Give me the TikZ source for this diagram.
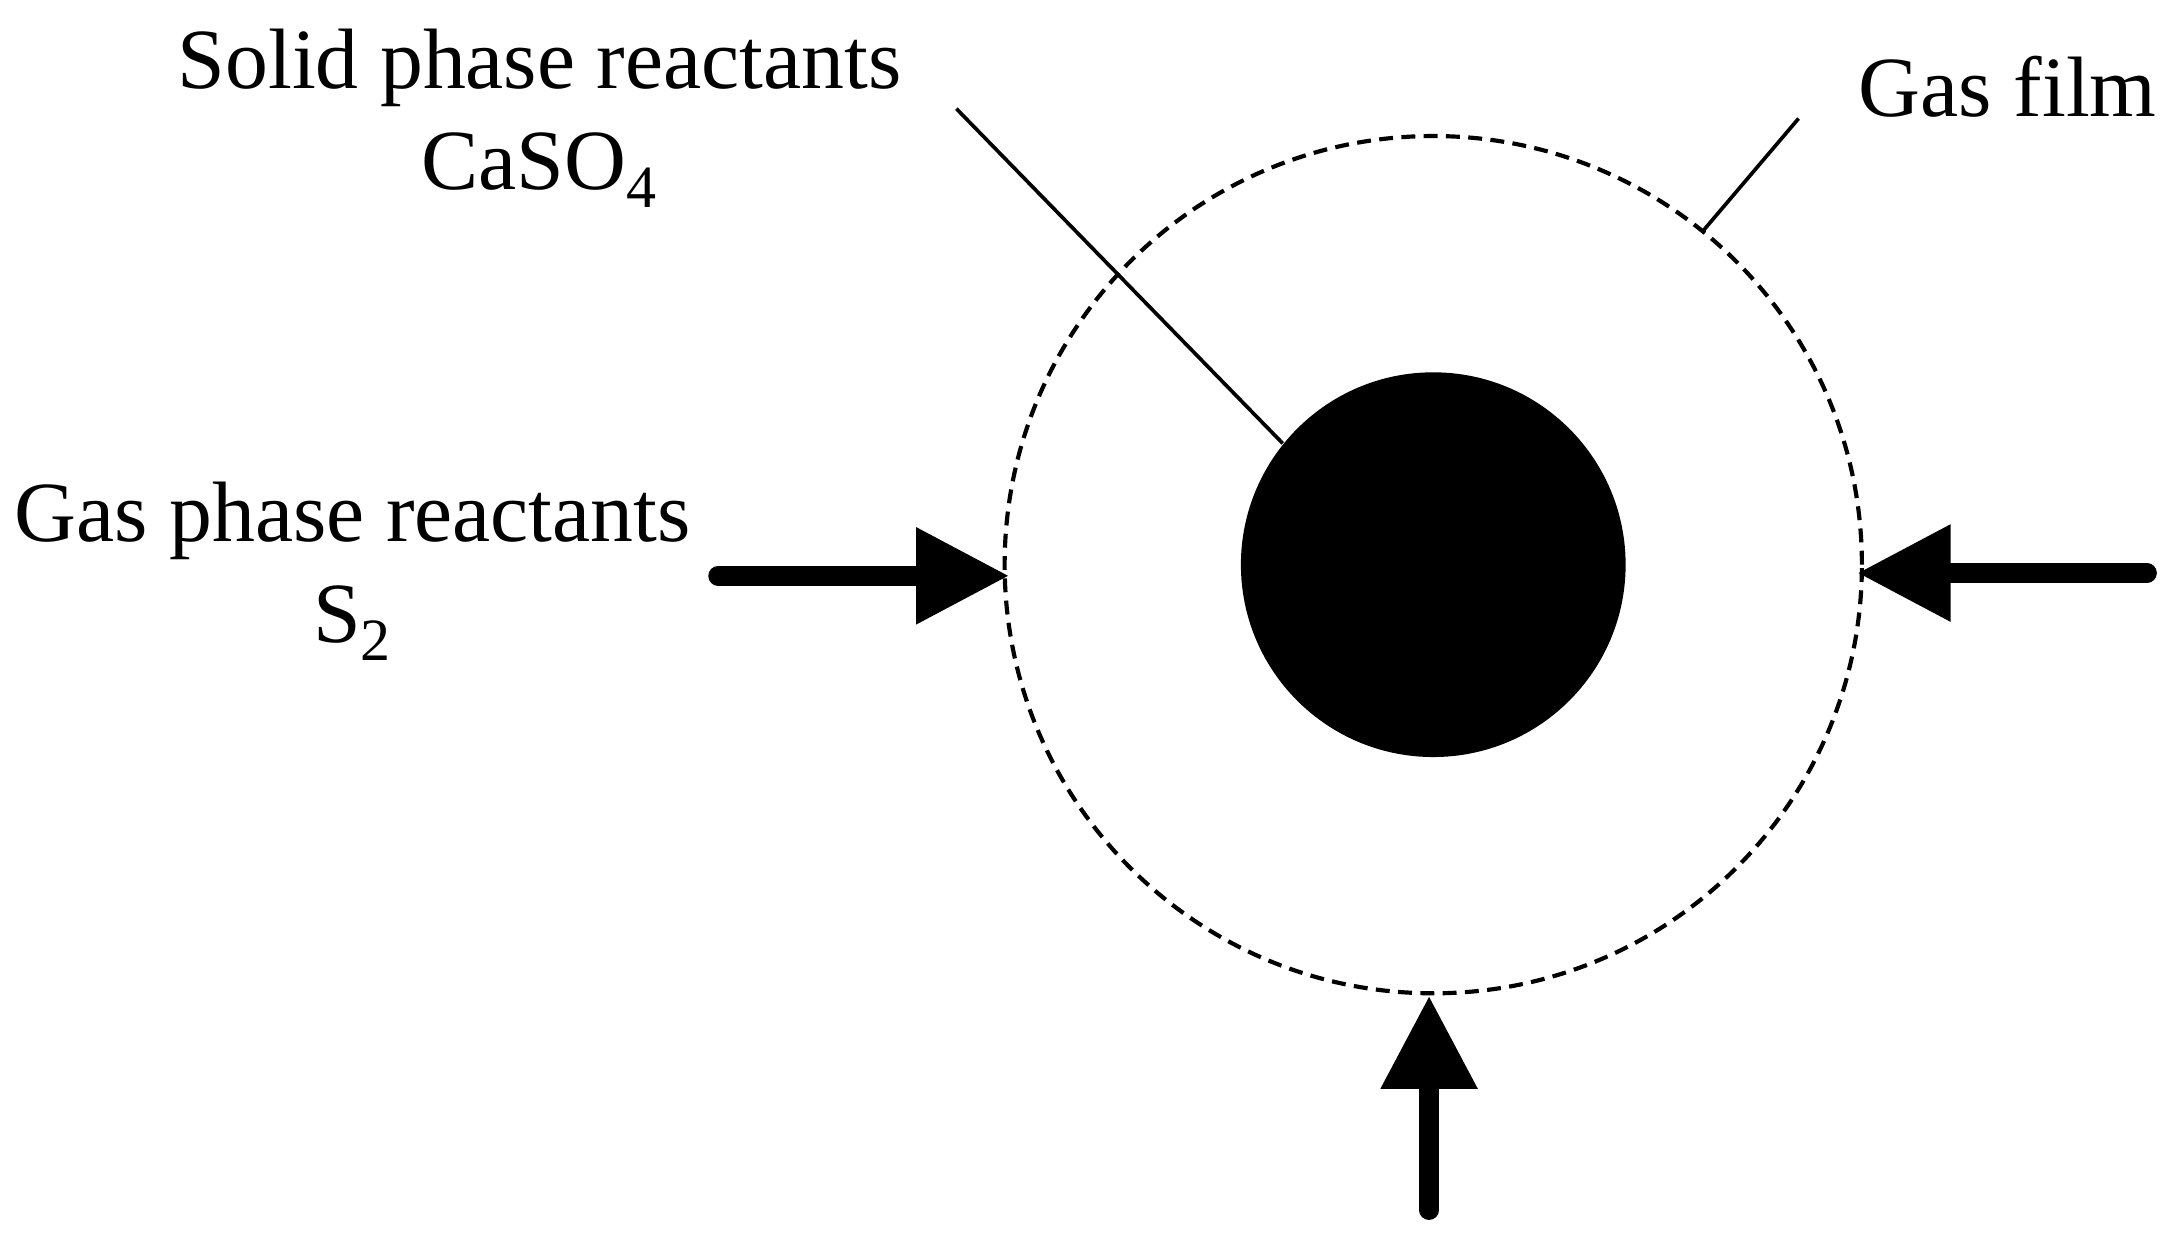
\documentclass[tikz,border=0pt]{standalone}
\usepackage{fontspec}
\setmainfont{Liberation Serif}
\usetikzlibrary{arrows.meta}
\begin{document}
\begin{tikzpicture}[x=0.02cm,y=-0.02cm,
  lbl/.style={font=\fontsize{35}{41}\selectfont, align=center},
  fat/.style={line width=0.28cm,line cap=round,-{Triangle[length=1.32cm,width=1.4cm,line width=0pt,line join=miter]}},
  thin/.style={line width=1.5pt}]
\useasboundingbox (0,0) rectangle (1560,897);
\node[circle,fill=black,minimum size=5.52cm,inner sep=0] (core) at (1028,405) {};
\node[circle,draw,dash pattern=on 0.2cm off 0.12cm,line width=1.7pt,minimum size=12.3cm,inner sep=0] (film) at (1028,405) {};
\node[lbl] (solid) at (387,85) {Solid phase reactants\\CaSO\textsubscript{4}};
\node[lbl] (gfilm) at (1440,62) {Gas film};
\node[lbl] (gas) at (253,410) {Gas phase reactants\\S\textsubscript{2}};
\coordinate (s1) at (686,78); \coordinate (s2) at (920,318);
\draw[thin] (s1) -- (s2);
\coordinate (g1) at (1290,85); \coordinate (g2) at (1222,165);
\draw[thin] (g1) -- (g2);
\coordinate (la) at (515,413); \coordinate (lt) at (723,413);
\coordinate (ra) at (1540,411); \coordinate (rt) at (1333,411);
\coordinate (ba) at (1025,868); \coordinate (bt) at (1025,715);
\draw[fat] (la) -- (lt);
\draw[fat] (ra) -- (rt);
\draw[fat] (ba) -- (bt);
\end{tikzpicture}
\end{document}
